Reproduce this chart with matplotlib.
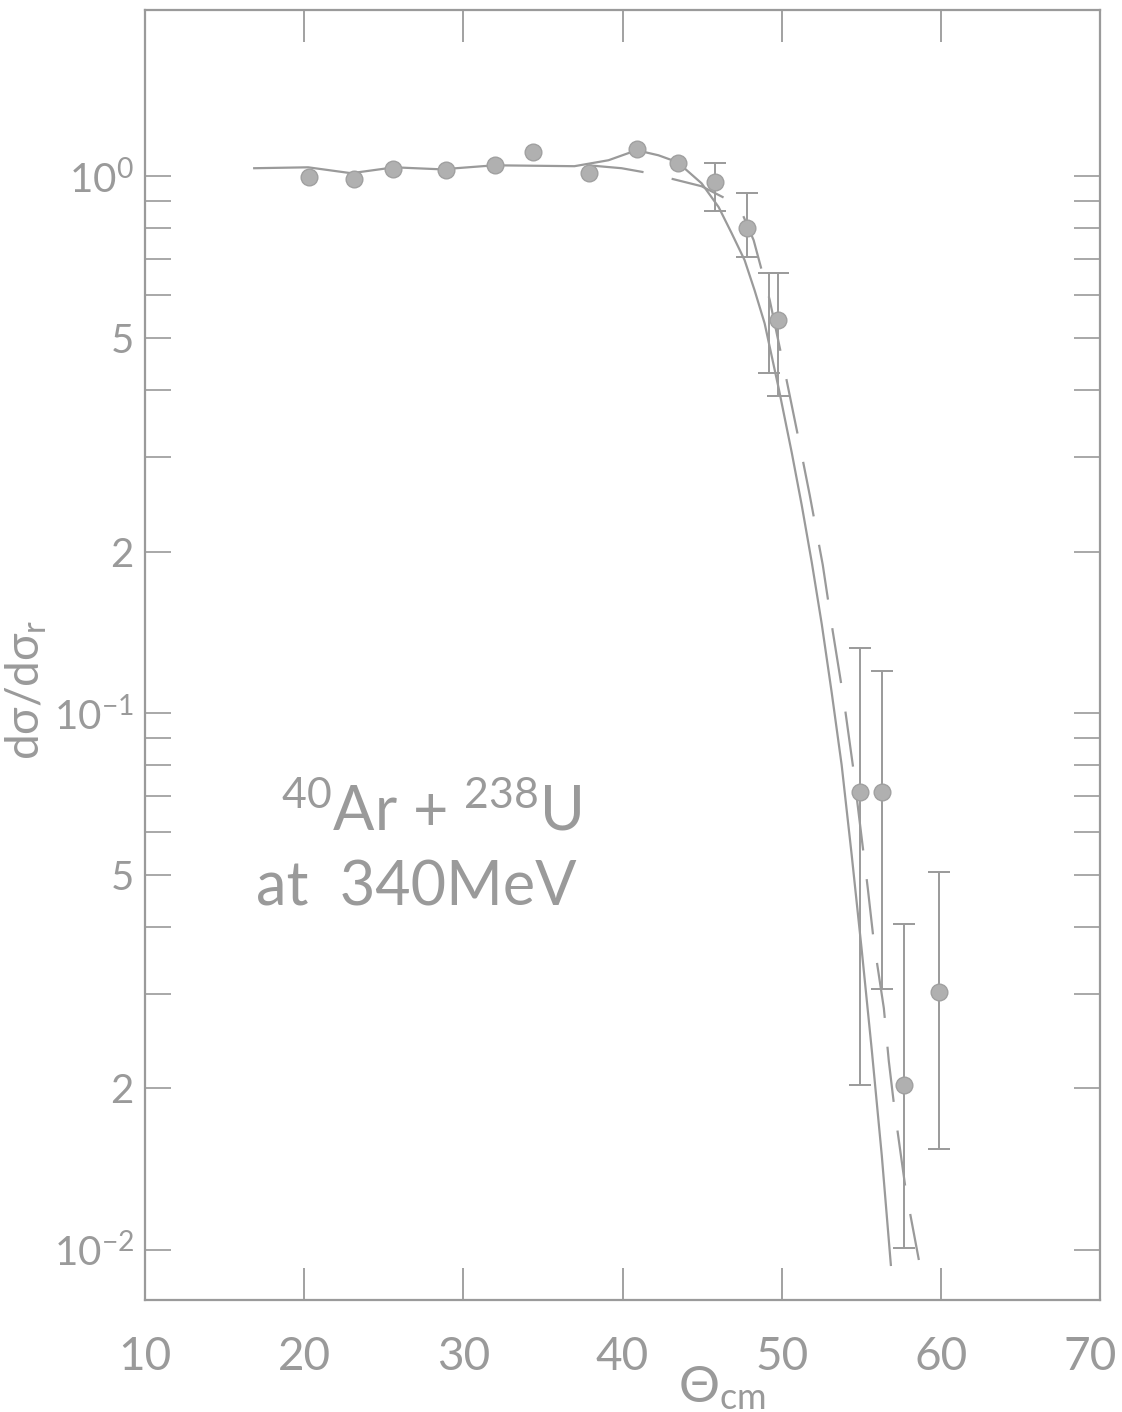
import numpy as np
import matplotlib
matplotlib.use('Agg')
import matplotlib.pyplot as plt
from matplotlib.ticker import FixedLocator, FixedFormatter, NullFormatter

# measured points (theta_cm, d sigma / d sigma_r)
theta_pts = [20.3, 23.1, 25.6, 28.9, 32.0, 34.4, 37.9, 40.9, 43.5, 45.8, 47.8, 49.8,
             54.9, 56.3, 57.7, 59.9]
ratio_pts = [0.996, 0.99, 1.03, 1.026, 1.048, 1.108, 1.013, 1.123, 1.057, 0.975, 0.80, 0.54,
             0.0713, 0.0713, 0.0203, 0.0303]

# error bars (lower / upper bounds)
err_theta = [45.8, 47.8, 49.2, 49.8, 54.9, 56.3, 57.7, 59.9]
err_ratio = [0.975, 0.80, 0.53, 0.52, 0.0713, 0.0713, 0.0203, 0.0303]
err_low = [0.86, 0.707, 0.43, 0.39, 0.0203, 0.0306, 0.0101, 0.0154]
err_high = [1.057, 0.93, 0.66, 0.66, 0.132, 0.12, 0.0405, 0.0506]

# solid calculation
solid_theta = [16.86, 20.25, 22.96, 25.66, 28.62, 31.95, 36.98, 39.12, 40.88, 42.26, 43.46,
               44.97, 46.04, 46.86, 47.67, 48.30, 48.93, 49.81, 50.63, 51.26, 51.89, 52.52,
               53.14, 53.77, 54.40, 55.03, 55.66, 56.29, 56.86]
solid_ratio = [1.035, 1.039, 1.013, 1.039, 1.030, 1.048, 1.044, 1.071, 1.118, 1.094, 1.062,
               0.970, 0.876, 0.783, 0.698, 0.613, 0.532, 0.403, 0.306, 0.244, 0.191, 0.1464,
               0.1094, 0.0800, 0.0544, 0.0362, 0.0236, 0.0150, 0.00938]

# dashed calculation
dash_theta = [37.86, 39.94, 41.70, 44.97, 47.30, 48.24, 49.25, 50.31, 51.01, 51.76, 52.58,
              53.21, 53.90, 54.47, 55.41, 55.79, 56.42, 56.73, 57.11, 57.80, 58.62]
dash_ratio = [1.048, 1.035, 1.013, 0.958, 0.883, 0.760, 0.588, 0.417, 0.330, 0.255, 0.189,
              0.142, 0.106, 0.080, 0.0472, 0.0375, 0.0282, 0.0225, 0.0181, 0.0129, 0.00958]

x_ticks = [10, 20, 30, 40, 50, 60, 70]
x_labels = ['10', '20', '30', '40', '50', '60', '']   # '70' placed by hand so it stays inside
y_major = [0.01, 0.02, 0.05, 0.1, 0.2, 0.5, 1.0]
y_labels = [r'$10^{-2}$', '2', '5', r'$10^{-1}$', '2', '5', r'$10^{0}$']
y_minor = [0.03, 0.04, 0.06, 0.07, 0.08, 0.09, 0.3, 0.4, 0.6, 0.7, 0.8, 0.9]

plt.rcParams['font.family'] = ['Lato', 'DejaVu Sans']
plt.rcParams['mathtext.fontset'] = 'custom'
plt.rcParams['mathtext.rm'] = 'Lato'
plt.rcParams['mathtext.it'] = 'Lato'
plt.rcParams['mathtext.fallback'] = 'stixsans'

GREY = '#9a9a9a'

fig = plt.figure(figsize=(11.22, 14.12), dpi=100)
ax = fig.add_axes([145/1122, 112/1412, 955/1122, 1290/1412])
ax.set_yscale('log')
ax.set_xlim(10, 70)
ax.set_ylim(0.00807, 2.04)

ax.plot(solid_theta, solid_ratio, color=GREY, lw=1.6)
ax.plot(dash_theta, dash_ratio, color=GREY, lw=1.6, linestyle=(0, (25, 13)))

yerr = [np.array(err_ratio) - np.array(err_low), np.array(err_high) - np.array(err_ratio)]
ax.errorbar(err_theta, err_ratio, yerr=yerr, fmt='none', ecolor=GREY, elinewidth=1.4,
            capsize=8, capthick=1.4)
ax.plot(theta_pts, ratio_pts, 'o', color='#b0b0b0', markersize=12,
        markeredgecolor='#a0a0a0', markeredgewidth=1)

for sp in ax.spines.values():
    sp.set_color(GREY)
    sp.set_linewidth(1.6)

ax.xaxis.set_major_locator(FixedLocator(x_ticks))
ax.xaxis.set_major_formatter(FixedFormatter(x_labels))
ax.yaxis.set_major_locator(FixedLocator(y_major))
ax.yaxis.set_major_formatter(FixedFormatter(y_labels))
ax.yaxis.set_minor_locator(FixedLocator(y_minor))
ax.yaxis.set_minor_formatter(NullFormatter())

ax.tick_params(axis='x', which='both', direction='in', top=True, length=23, width=1.3,
               color=GREY, labelcolor=GREY, labelsize=33, pad=26)
ax.tick_params(axis='y', which='both', direction='in', right=True, length=19, width=1.2,
               color=GREY, labelcolor=GREY, labelsize=29, pad=8)

fig.text(1090/1122, 1 - 1357/1412, '70', color=GREY, fontsize=33, ha='center', va='center')

fig.text(722/1122, 1 - 1388/1412, r'$\Theta_{\mathrm{cm}}$', color=GREY, fontsize=37,
         ha='center', va='center')
fig.text(26/1122, 1 - 690/1412, r'd$\sigma$/d$\sigma_{\mathrm{r}}$', color=GREY, fontsize=33,
         rotation=90, ha='center', va='center')

ax.text(18.55, 0.0605, r'$^{40}$Ar + $^{238}$U', color=GREY, fontsize=44)
ax.text(17.0, 0.0439, 'at  340MeV', color=GREY, fontsize=44)

fig.savefig('out.png', dpi=100)
